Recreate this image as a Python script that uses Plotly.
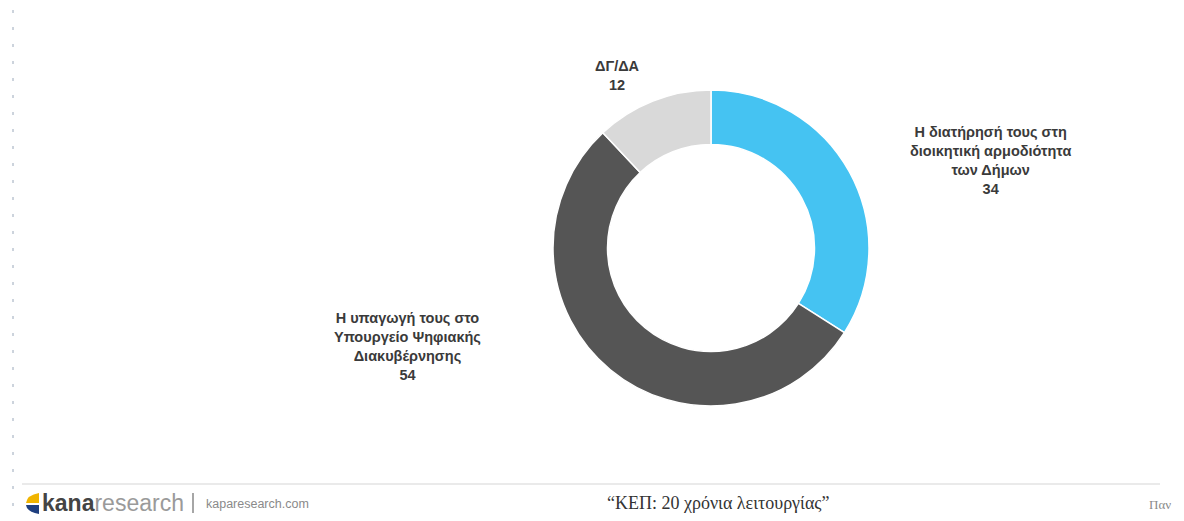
import plotly.graph_objects as go

# ---- data ----
labels = [
    "Η διατήρησή τους στη<br>διοικητική αρμοδιότητα<br>των Δήμων",
    "Η υπαγωγή τους στο<br>Υπουργείο Ψηφιακής<br>Διακυβέρνησης",
    "ΔΓ/ΔΑ",
]
values = [34, 54, 12]
colors = ["#45c3f2", "#555555", "#d9d9d9"]
footer_title = "“ΚΕΠ: 20 χρόνια λειτουργίας”"
footer_site = "kaparesearch.com"
footer_right = "Παν"

W, H = 1184, 521
cx, cy, R = 711, 248, 158

fig = go.Figure()
fig.add_trace(go.Pie(
    labels=[l.replace("<br>", " ") for l in labels],
    values=values,
    marker=dict(colors=colors, line=dict(color="white", width=1.5)),
    hole=0.655,
    sort=False,
    direction="clockwise",
    rotation=0,
    textinfo="none",
    hoverinfo="label+value",
    showlegend=False,
    domain=dict(x=[(cx - R) / W, (cx + R) / W],
                y=[(H - cy - R) / H, (H - cy + R) / H]),
))

label_pos = [(990, 161), (407, 346), (617, 75)]
for lab, val, (lx, ly) in zip(labels, values, label_pos):
    fig.add_annotation(
        x=lx / W, y=1 - ly / H, xref="paper", yref="paper",
        text=f"<b>{lab}<br>{val}</b>", showarrow=False,
        font=dict(family="Liberation Sans, Arial, sans-serif", size=14.5, color="#3a3a3a"),
        align="center", xanchor="center", yanchor="middle",
    )

# footer
fig.add_shape(type="line", xref="paper", yref="paper",
              x0=22 / W, x1=1160 / W, y0=1 - 484 / H, y1=1 - 484 / H,
              line=dict(color="#e3e3e3", width=1.5))
# left dotted guide
fig.add_shape(type="line", xref="paper", yref="paper",
              x0=13 / W, x1=13 / W, y0=1 - 10 / H, y1=1 - 518 / H,
              line=dict(color="#9aa8ba", width=1, dash="3px,14px"))
# logo icon
fig.add_shape(type="path", xref="paper", yref="paper",
              path=f"M {39/W} {1-493/H} L {39/W} {1-503/H} L {26/W} {1-503/H} Q {27/W} {1-495/H} {39/W} {1-493/H} Z",
              fillcolor="#f0b400", line=dict(width=0))
fig.add_shape(type="path", xref="paper", yref="paper",
              path=f"M {39/W} {1-505/H} L {39/W} {1-514/H} Q {27/W} {1-512/H} {26/W} {1-505/H} Z",
              fillcolor="#1f3f7f", line=dict(width=0))

fig.add_annotation(x=40 / W, y=1 - 503 / H, xref="paper", yref="paper",
                   text="<b>kana</b><span style='color:#9a9a9a'>research</span>",
                   showarrow=False, xanchor="left", yanchor="middle",
                   font=dict(family="Liberation Sans, Arial, sans-serif", size=23, color="#444444"))
fig.add_shape(type="line", xref="paper", yref="paper",
              x0=193 / W, x1=193 / W, y0=1 - 493 / H, y1=1 - 513 / H,
              line=dict(color="#888888", width=1.5))
fig.add_annotation(x=204 / W, y=1 - 504 / H, xref="paper", yref="paper",
                   text=footer_site, showarrow=False, xanchor="left", yanchor="middle",
                   font=dict(family="Liberation Sans, Arial, sans-serif", size=12.5, color="#8a8a8a"))
fig.add_annotation(x=718 / W, y=1 - 503 / H, xref="paper", yref="paper",
                   text=footer_title, showarrow=False, xanchor="center", yanchor="middle",
                   font=dict(family="Liberation Serif, DejaVu Serif, serif", size=18, color="#333333"))
fig.add_annotation(x=1147 / W, y=1 - 504 / H, xref="paper", yref="paper",
                   text=footer_right, showarrow=False, xanchor="left", yanchor="middle",
                   font=dict(family="Liberation Serif, DejaVu Serif, serif", size=13, color="#8a8a8a"))

fig.update_layout(
    width=W, height=H,
    margin=dict(l=0, r=0, t=0, b=0),
    paper_bgcolor="white", plot_bgcolor="white",
)
fig.write_html("out.html",
               config={"displayModeBar": False},
               post_script="document.body.style.margin='0';document.body.style.overflow='hidden';")
